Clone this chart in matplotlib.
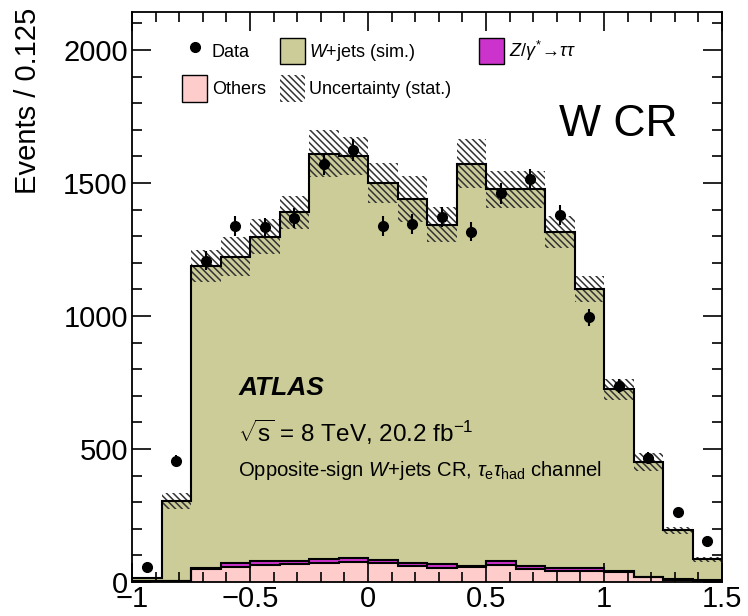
import numpy as np
import matplotlib.pyplot as plt
from matplotlib.patches import Patch
from matplotlib.lines import Line2D
from matplotlib.ticker import MultipleLocator, FuncFormatter

plt.rcParams['font.family'] = ['Liberation Sans', 'DejaVu Sans']
plt.rcParams['mathtext.fontset'] = 'custom'
plt.rcParams['mathtext.rm'] = 'Liberation Sans'
plt.rcParams['mathtext.it'] = 'Liberation Sans:italic'
plt.rcParams['mathtext.bf'] = 'Liberation Sans:bold'
plt.rcParams['hatch.linewidth'] = 1.1

# 20 bins of width 0.125 from -1 to 1.5
bin_edges = np.linspace(-1.0, 1.5, 21)

data_counts = [56, 456, 1208, 1338, 1333, 1369, 1571, 1624, 1339, 1345,
               1373, 1317, 1461, 1514, 1380, 995, 737, 465, 264, 155]
data_err = [8, 21, 35, 37, 37, 37, 40, 40, 37, 37,
            37, 36, 38, 39, 37, 32, 27, 22, 16, 12]

others = [3, 3, 47, 56, 63, 66, 70, 75, 70, 60,
          54, 57, 63, 48, 41, 41, 38, 17, 8, 5]
ztautau = [0, 0, 5, 17, 16, 13, 15, 15, 14, 13,
           12, 3, 16, 12, 13, 12, 5, 2, 2, 1]
wjets = [12, 302, 1137, 1150, 1219, 1311, 1526, 1511, 1415, 1367,
         1277, 1513, 1397, 1416, 1261, 1048, 681, 431, 185, 79]
mc_unc = [5, 30, 60, 73, 66, 63, 88, 72, 75, 85,
          66, 91, 69, 69, 60, 50, 41, 34, 13, 8]

c_wjets = '#cccc99'
c_others = '#ffcccc'
c_z = '#cc33cc'
c_hatch = '#333333'

others_top = np.array(others, dtype=float)
z_top = others_top + np.array(ztautau)
total = z_top + np.array(wjets)
unc = np.array(mc_unc)

fig = plt.figure(figsize=(7.48, 6.16), dpi=100)
ax = fig.add_axes([0.1765, 0.0552, 0.7888, 0.9253])

# stacked backgrounds
ax.stairs(others_top, bin_edges, baseline=0, fill=True, color=c_others, lw=0)
ax.stairs(z_top, bin_edges, baseline=others_top, fill=True, color=c_z, lw=0)
ax.stairs(total, bin_edges, baseline=z_top, fill=True, color=c_wjets, lw=0)

# stat uncertainty band
ax.stairs(total + unc, bin_edges, baseline=total - unc, fill=True,
          facecolor='none', edgecolor=c_hatch, hatch='\\' * 5, lw=0)

# outlines
ax.stairs(others_top, bin_edges, baseline=None, color='black', lw=1.5)
ax.stairs(z_top, bin_edges, baseline=None, color='black', lw=1.5)
ax.stairs(total, bin_edges, baseline=None, color='black', lw=1.5)

# data
centers = 0.5 * (bin_edges[:-1] + bin_edges[1:])
ax.errorbar(centers, data_counts, yerr=data_err, fmt='o', color='black',
            markersize=7, elinewidth=1.5, capsize=0, zorder=5)

ax.set_xlim(-1.0, 1.5)
ax.set_ylim(0, 2143)

ax.xaxis.set_major_locator(MultipleLocator(0.5))
ax.xaxis.set_minor_locator(MultipleLocator(0.1))
ax.yaxis.set_major_locator(MultipleLocator(500))
ax.yaxis.set_minor_locator(MultipleLocator(100))
ax.xaxis.set_major_formatter(FuncFormatter(lambda v, p: f'{v:g}'.replace('-', '\u2212')))

ax.tick_params(which='both', direction='in', top=True, right=True,
               width=1.2, labelsize=21)
ax.tick_params(which='major', length=14)
ax.tick_params(which='minor', length=7)
ax.tick_params(axis='x', pad=2)
ax.tick_params(axis='y', pad=3)
for s in ax.spines.values():
    s.set_linewidth(1.3)

ax.set_ylabel('Events / 0.125', fontsize=21, rotation_mode='default',
              ha='center', va='top')
ax.yaxis.set_label_coords(-0.176, 1.008)

# legend
h_data = Line2D([], [], marker='o', color='black', ls='none', markersize=7)
h_w = Patch(facecolor=c_wjets, edgecolor='black', lw=1)
h_o = Patch(facecolor=c_others, edgecolor='black', lw=1)
h_u = Patch(facecolor='none', edgecolor=c_hatch, hatch='\\' * 5, lw=0)
h_z = Patch(facecolor=c_z, edgecolor='black', lw=1)

leg_kw = dict(loc='upper left', frameon=False, fontsize=13, borderpad=0,
              borderaxespad=0, handlelength=1.4, handleheight=1.9,
              handletextpad=0.25)
leg1 = ax.legend([h_data, h_o, h_w, h_u],
                 ['Data', 'Others', r'$W$+jets (sim.)', 'Uncertainty (stat.)'],
                 ncol=2, bbox_to_anchor=(0.085, 0.955),
                 labelspacing=0.6, columnspacing=0.75, **leg_kw)
ax.add_artist(leg1)
ax.legend([h_z], [r'$Z/\gamma^{*}\!\rightarrow\!\tau\tau$'],
          bbox_to_anchor=(0.588, 0.955), **leg_kw)

ax.text(0.824, 0.802, 'W CR', transform=ax.transAxes, fontsize=32,
        ha='center', va='center')

ax.text(0.18, 0.340, 'ATLAS', transform=ax.transAxes, fontsize=19,
        fontweight='bold', fontstyle='italic', va='center')
ax.text(0.18, 0.263, r'$\sqrt{\mathrm{s}}$ = 8 TeV, 20.2 fb$^{-1}$',
        transform=ax.transAxes, fontsize=17.5, va='center')
ax.text(0.18, 0.196,
        r'Opposite-sign $W$+jets CR, $\tau_{\mathrm{e}}\tau_{\mathrm{had}}$ channel',
        transform=ax.transAxes, fontsize=14.6, va='center')

fig.savefig('out.png', dpi=100)
